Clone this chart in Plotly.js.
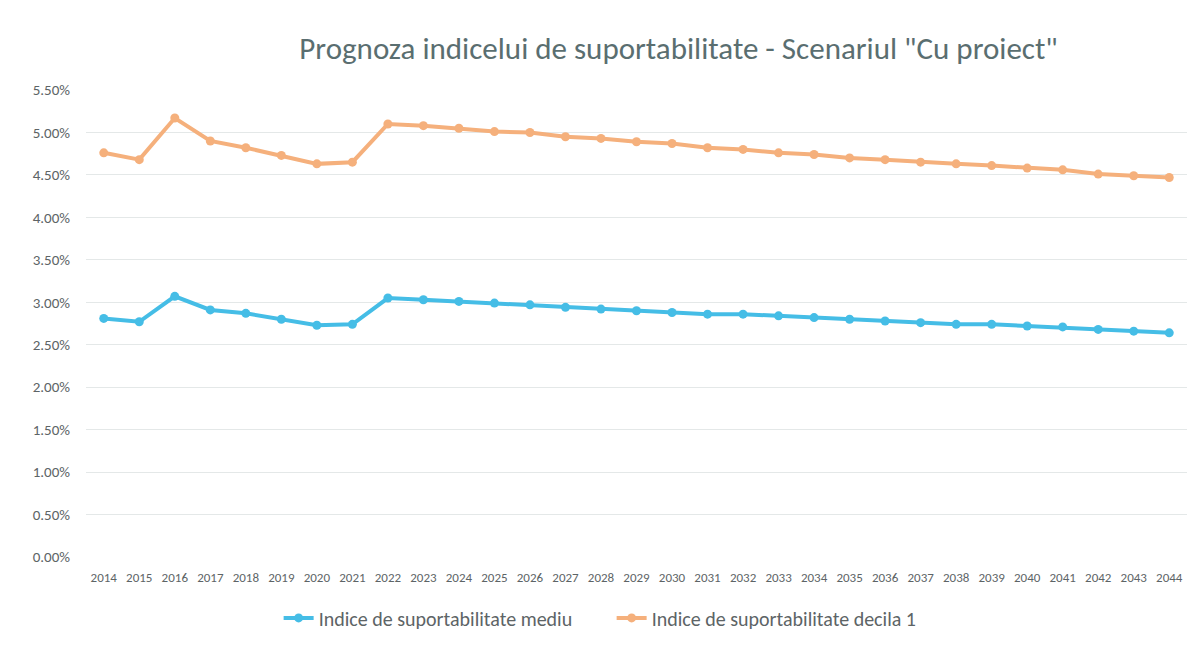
<!DOCTYPE html>
<html>
<head>
<meta charset="utf-8">
<script src="https://cdn.plot.ly/plotly-3.0.1.min.js"></script>
<style>
  html, body { margin: 0; padding: 0; background: #ffffff; }
  #chart { width: 1201px; height: 645px; }
</style>
</head>
<body>
<div id="chart"></div>
<script>
const years = ['2014','2015','2016','2017','2018','2019','2020','2021','2022','2023','2024','2025','2026','2027','2028','2029','2030','2031','2032','2033','2034','2035','2036','2037','2038','2039','2040','2041','2042','2043','2044'];

const indiceMediu = [2.81, 2.77, 3.07, 2.91, 2.87, 2.80, 2.73, 2.74, 3.05, 3.03, 3.01, 2.99, 2.97, 2.94, 2.92, 2.90, 2.88, 2.86, 2.86, 2.84, 2.82, 2.80, 2.78, 2.76, 2.74, 2.74, 2.72, 2.71, 2.68, 2.66, 2.64];

const indiceDecila1 = [4.76, 4.68, 5.17, 4.90, 4.82, 4.73, 4.63, 4.65, 5.10, 5.08, 5.05, 5.01, 5.00, 4.95, 4.93, 4.89, 4.87, 4.82, 4.80, 4.76, 4.74, 4.70, 4.68, 4.65, 4.63, 4.61, 4.58, 4.56, 4.51, 4.49, 4.47];

const yTicks = [0, 0.5, 1, 1.5, 2, 2.5, 3, 3.5, 4, 4.5, 5, 5.5];
const yTickLabels = ['0.00%', '0.50%', '1.00%', '1.50%', '2.00%', '2.50%', '3.00%', '3.50%', '4.00%', '4.50%', '5.00%', '5.50%'];

const seriesNames = ['Indice de suportabilitate mediu', 'Indice de suportabilitate decila 1'];
const titleText = 'Prognoza indicelui de suportabilitate - Scenariul "Cu proiect"';

const FONT = 'Carlito, Lato, "Liberation Sans", sans-serif';
const GREY = '#5d6466';

const traces = [
  {
    x: years, y: indiceMediu, name: seriesNames[0], type: 'scatter', mode: 'lines+markers',
    line: { color: '#45bde6', width: 4 },
    marker: { color: '#45bde6', size: 9 }
  },
  {
    x: years, y: indiceDecila1, name: seriesNames[1], type: 'scatter', mode: 'lines+markers',
    line: { color: '#f5b07c', width: 4 },
    marker: { color: '#f5b07c', size: 9 }
  }
];

const layout = {
  width: 1201, height: 645,
  paper_bgcolor: '#ffffff', plot_bgcolor: '#ffffff',
  margin: { l: 86, r: 14, t: 90, b: 88 },
  font: { family: FONT, color: GREY },
  title: {
    text: titleText,
    font: { family: FONT, size: 31, color: '#5a6e70' },
    xref: 'container', yref: 'container',
    x: 0.565, xanchor: 'center', y: 0.926, yanchor: 'middle'
  },
  xaxis: {
    type: 'category',
    range: [-0.5, years.length - 0.5],
    tickfont: { family: FONT, size: 13, color: GREY },
    tickangle: 0,
    showgrid: false, zeroline: false, showline: false,
    ticks: 'outside', ticklen: 8, tickcolor: 'rgba(0,0,0,0)',
    fixedrange: true
  },
  yaxis: {
    range: [0, 5.5],
    tickmode: 'array',
    tickvals: yTicks,
    ticktext: yTickLabels,
    tickfont: { family: FONT, size: 15, color: GREY },
    showgrid: true, gridcolor: '#e4e8e8', gridwidth: 1,
    zeroline: false, showline: false,
    ticks: 'outside', ticklen: 12, tickcolor: 'rgba(0,0,0,0)',
    fixedrange: true
  },
  showlegend: true,
  legend: {
    orientation: 'h',
    xref: 'container', yref: 'container',
    x: 0.232, xanchor: 'left', y: 0.042, yanchor: 'middle',
    font: { family: FONT, size: 20, color: GREY },
    itemwidth: 30, entrywidth: 288, tracegroupgap: 0
  }
};

Plotly.newPlot('chart', traces, layout, { displayModeBar: false, staticPlot: true });
</script>
</body>
</html>
